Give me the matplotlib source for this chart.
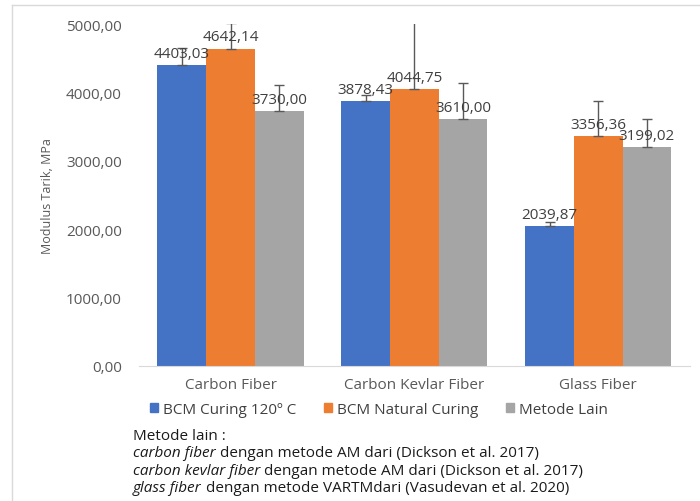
import matplotlib
import numpy as np

matplotlib.use("Agg")
import matplotlib.pyplot as plt
from matplotlib.lines import Line2D
from matplotlib.patches import Patch

plt.rcParams["font.family"] = ["Open Sans", "DejaVu Sans"]

categories = ["Carbon Fiber", "Carbon Kevlar Fiber", "Glass Fiber"]
series = ["BCM Curing 120º C", "BCM Natural Curing", "Metode Lain"]
curing_120 = [4403.03, 3878.43, 2039.87]
natural_curing = [4642.14, 4044.75, 3356.36]
metode_lain = [3730.00, 3610.00, 3199.02]
err_120 = [250, 80, 60]
err_natural = [370, 980, 515]
err_lain = [380, 535, 420]
yticks = [0, 1000, 2000, 3000, 4000, 5000]
notes = [
    ("carbon fiber", " dengan metode AM dari (Dickson et al. 2017)"),
    ("carbon kevlar fiber", " dengan metode AM dari (Dickson et al. 2017)"),
    ("glass fiber", " dengan metode VARTMdari (Vasudevan et al. 2020)"),
]

colors = ["#4472C4", "#ED7D31", "#A5A5A5"]
text_c = "#595959"

fig = plt.figure(figsize=(7.0, 5.02), dpi=100)
ax = fig.add_axes([0.198, 0.269, 0.788, 0.681])

x = np.arange(len(categories))
w = 0.265
for i, (vals, errs) in enumerate([(curing_120, err_120),
                                  (natural_curing, err_natural),
                                  (metode_lain, err_lain)]):
    bars = ax.bar(x + (i - 1) * w, vals, w, color=colors[i], label=series[i], zorder=2)
    # plus-only error bars, as in the source chart
    ax.errorbar(x + (i - 1) * w, vals, yerr=[np.zeros(len(errs)), errs], fmt="none",
                ecolor="#595959", elinewidth=1, capsize=3.5, capthick=1, zorder=3)
    ax.bar_label(bars, labels=[f"{v:.2f}".replace(".", ",") for v in vals],
                 padding=3, fontsize=11, color="#404040", zorder=4)

ax.set_xlim(-0.5, 2.5)
ax.set_ylim(0, 5000)
ax.set_xticks(x, categories)
ax.set_yticks(yticks, [f"{t:.2f}".replace(".", ",") for t in yticks])
ax.tick_params(axis="both", length=0, labelsize=11, labelcolor=text_c)
ax.tick_params(axis="y", pad=12)
ax.tick_params(axis="x", pad=8)
for s in ["top", "right", "left"]:
    ax.spines[s].set_visible(False)
ax.spines["bottom"].set_color("#D9D9D9")
ax.set_ylabel("Modulus Tarik, MPa", fontsize=9, color=text_c, labelpad=9)

handles = [Patch(color=c) for c in colors]
fig.legend(handles, series, loc="center", bbox_to_anchor=(0.541, 0.183), ncol=3,
           frameon=False, fontsize=11, handlelength=0.55, handleheight=0.55,
           handletextpad=0.3, columnspacing=1.8, labelcolor="#404040")

# outer frame lines
fig.add_artist(Line2D([12 / 700, 12 / 700], [0, 1 - 6 / 502], transform=fig.transFigure,
                      color="#D9D9D9", lw=1))
fig.add_artist(Line2D([12 / 700, 1], [1 - 6 / 502, 1 - 6 / 502], transform=fig.transFigure,
                      color="#D9D9D9", lw=1))

fig.text(133 / 700, 1 - 437 / 502, "Metode lain :", fontsize=11, va="center", color="#1a1a1a")
fig.canvas.draw()
r = fig.canvas.get_renderer()
for k, (it, rest) in enumerate(notes):
    y = 1 - (454 + 17.5 * k) / 502
    t = fig.text(133 / 700, y, it, fontsize=11, style="italic", va="center", color="#1a1a1a")
    bb = t.get_window_extent(r)
    fig.text(bb.x1 / fig.bbox.width, y, rest, fontsize=11, va="center", color="#1a1a1a")

fig.savefig("out.png", dpi=100)
